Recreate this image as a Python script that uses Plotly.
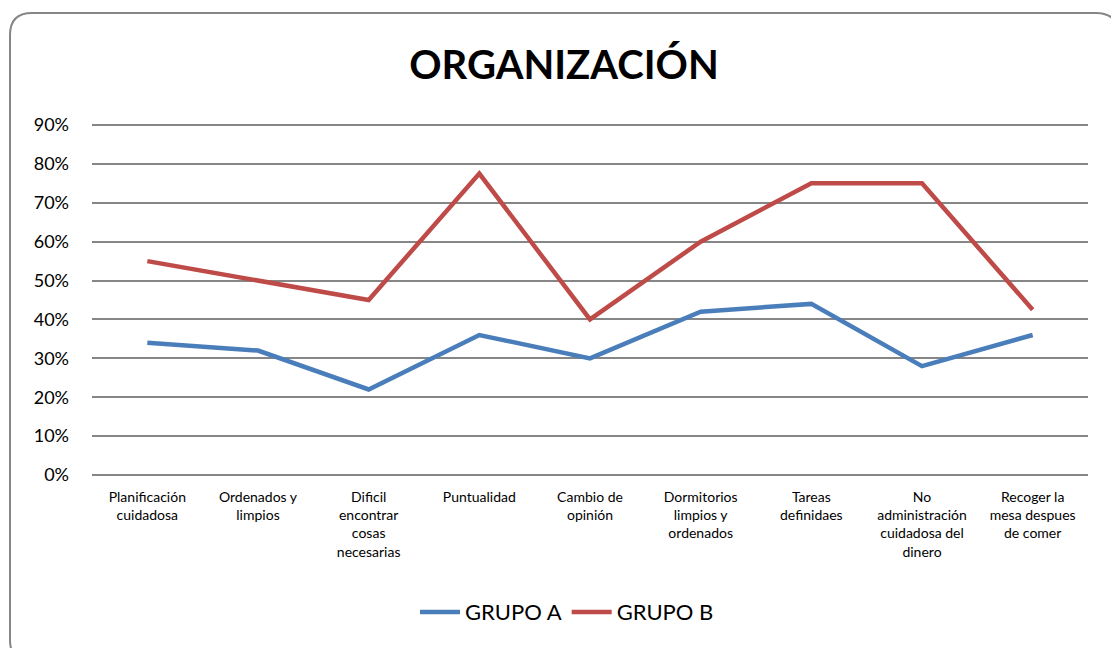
import plotly.graph_objects as go

categories = [
    "Planificación<br>cuidadosa",
    "Ordenados y<br>limpios",
    "Dificil<br>encontrar<br>cosas<br>necesarias",
    "Puntualidad",
    "Cambio de<br>opinión",
    "Dormitorios<br>limpios y<br>ordenados",
    "Tareas<br>definidaes",
    "No<br>administración<br>cuidadosa del<br>dinero",
    "Recoger la<br>mesa despues<br>de comer",
]
grupo_a = [0.34, 0.32, 0.22, 0.36, 0.30, 0.42, 0.44, 0.28, 0.36]
grupo_b = [0.55, 0.50, 0.45, 0.775, 0.40, 0.60, 0.75, 0.75, 0.425]
y_ticks = [0, 0.1, 0.2, 0.3, 0.4, 0.5, 0.6, 0.7, 0.8, 0.9]

W, H = 1111, 648
pad = 0.005
scale = 350 / 0.9  # px per unit
L, R = 92, 23
T = 125 - pad * scale
B = H - (475 + pad * scale)
pw, ph = W - L - R, H - T - B

FONT = "Lato"
GRID = "#868686"

fig = go.Figure()
fig.add_trace(go.Scatter(x=categories, y=grupo_a, mode="lines", name="GRUPO A",
                         line=dict(color="#4A7EBB", width=4.5)))
fig.add_trace(go.Scatter(x=categories, y=grupo_b, mode="lines", name="GRUPO B",
                         line=dict(color="#BE4B48", width=4.5)))

# boundary gridlines (first / last tick) drawn explicitly
for v in (y_ticks[0], y_ticks[-1]):
    fig.add_hline(y=v, line=dict(color=GRID, width=1.5), layer="below")

# rounded chart border (pixel -> paper conversion)
def px(x):
    return (x - L) / pw

def py(y):
    return (H - B - y) / ph

x0, x1, y0, y1, r = 10, 1118, 13, 662, 22
path = (
    f"M {px(x0 + r)},{py(y0)} L {px(x1 - r)},{py(y0)} "
    f"Q {px(x1)},{py(y0)} {px(x1)},{py(y0 + r)} "
    f"L {px(x1)},{py(y1 - r)} Q {px(x1)},{py(y1)} {px(x1 - r)},{py(y1)} "
    f"L {px(x0 + r)},{py(y1)} Q {px(x0)},{py(y1)} {px(x0)},{py(y1 - r)} "
    f"L {px(x0)},{py(y0 + r)} Q {px(x0)},{py(y0)} {px(x0 + r)},{py(y0)} Z"
)
fig.add_shape(type="path", path=path, xref="paper", yref="paper",
              line=dict(color=GRID, width=2), fillcolor="rgba(0,0,0,0)",
              layer="below")

fig.update_layout(
    width=W, height=H,
    margin=dict(l=L, r=R, t=T, b=B, pad=0),
    paper_bgcolor="white", plot_bgcolor="white",
    font=dict(family=FONT, color="black"),
    title=dict(text="<b>ORGANIZACIÓN</b>", x=564 / W, xanchor="center",
               y=1 - 65 / H, yanchor="middle",
               font=dict(family=FONT, size=40, color="black")),
    xaxis=dict(showgrid=False, showline=False, zeroline=False,
               tickfont=dict(size=14), tickangle=0, ticks="",
               ticklabelstandoff=10,
               range=[-0.5, len(categories) - 0.5]),
    yaxis=dict(range=[-pad, 0.9 + pad], tickvals=y_ticks, tickformat=".0%",
               showgrid=True, gridcolor=GRID, gridwidth=1.5,
               zeroline=False, showline=False, ticks="",
               ticklabelstandoff=22,
               tickfont=dict(size=18)),
    legend=dict(orientation="h", x=px(567), xanchor="center",
                y=py(612), yanchor="middle",
                font=dict(size=22), itemwidth=40, tracegroupgap=0),
)

fig.write_html("out.html", config={"displayModeBar": False},
               post_script="document.body.style.margin='0';document.body.style.overflow='hidden';")
